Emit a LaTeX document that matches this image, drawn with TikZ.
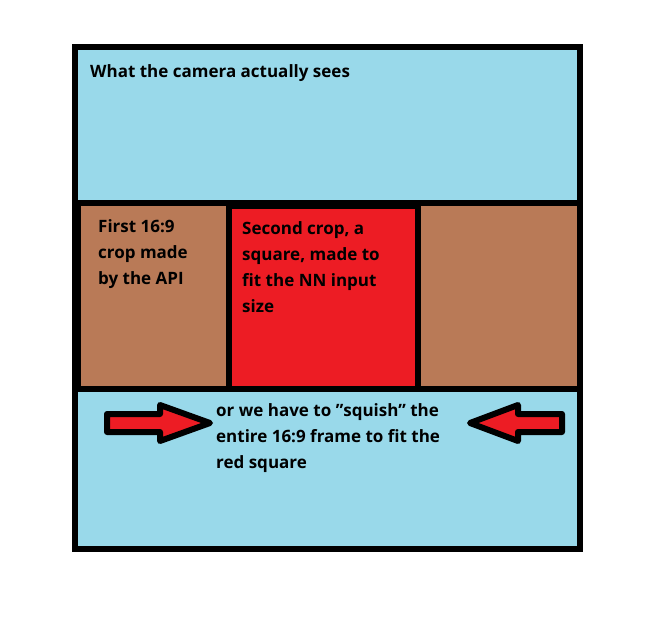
\documentclass[tikz,border=0pt]{standalone}
\usepackage{fontspec}
\setmainfont{Open Sans}
\definecolor{skyblue}{HTML}{99D9EA}
\definecolor{cropbrown}{HTML}{B97A57}
\definecolor{cropred}{HTML}{ED1C24}
\tikzset{
  frame/.style={draw=black,line width=6pt},
  label/.style={anchor=north west,align=left,font=\bfseries\fontsize{17}{26}\selectfont,inner sep=0pt},
  squish/.style={draw=black,fill=cropred,line width=6pt,line join=round}
}
\begin{document}
\begin{tikzpicture}[x=1pt,y=-1pt]
  \useasboundingbox (0,0) rectangle (656,631);
  % camera view
  \draw[frame,fill=skyblue] (75,47) rectangle (580,549);
  % first crop band
  \draw[frame,fill=cropbrown] (78,203) rectangle (580,389);
  % second crop
  \draw[frame,fill=cropred] (229,206) rectangle (418,389);
  % texts
  \node[label] (view) at (90,64) {What the camera actually sees};
  \node[label] (first) at (98,219) {First 16:9\\crop made\\by the API};
  \node[label] (second) at (242,221) {Second crop, a\\square, made to\\fit the NN input\\size};
  \node[label] (squishtxt) at (216,403) {or we have to "squish" the\\entire 16:9 frame to fit the\\red square};
  % arrows
  \draw[squish] (107,414) -- (160,414) -- (160,405) -- (210,423) -- (160,441)
    -- (160,432) -- (107,432) -- cycle;
  \draw[squish] (562,414) -- (518,414) -- (518,405) -- (470,423) -- (518,441)
    -- (518,432) -- (562,432) -- cycle;
\end{tikzpicture}
\end{document}
